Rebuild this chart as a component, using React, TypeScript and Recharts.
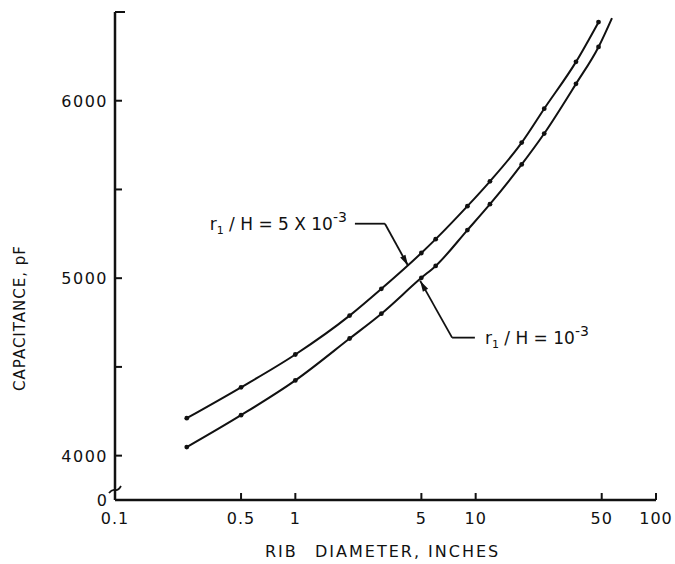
import { LineChart, Line, XAxis, YAxis, ReferenceLine, ReferenceDot } from 'recharts'

// rib diameter, inches
const diameters = [0.25, 0.5, 1, 2, 3, 5, 6, 9, 12, 18, 24, 36, 48]
// capacitance, pF
const capHigh = [4211, 4385, 4570, 4789, 4940, 5142, 5220, 5406, 5546, 5764, 5955, 6219, 6443] // r1/H = 5e-3
const capLow = [4048, 4228, 4424, 4660, 4800, 5002, 5069, 5271, 5417, 5641, 5815, 6095, 6303] // r1/H = 1e-3
// the lower curve is drawn on a little past its last point
const lowTail = { d: 57, c: 6466 }

const xTicks = [0.1, 0.5, 1, 5, 10, 50, 100]
const yTicks = [3750, 4000, 4500, 5000, 5500, 6000, 6500]
const yTickLabels: Record<number, string> = { 3750: '0', 4000: '4000', 5000: '5000', 6000: '6000' }

const highData = diameters.map((d, i) => ({ d, c: capHigh[i] }))
const lowData = [...diameters.map((d, i) => ({ d, c: capLow[i] })), { ...lowTail, tail: true }]

const FONT = '"DejaVu Sans", sans-serif'
const INK = '#111'

function XTick({ x = 0, y = 0, payload }: any) {
  const v = payload?.value
  return (
    <g>
      {v !== 0.1 ? <line x1={x} y1={y} x2={x} y2={y - 7} stroke={INK} strokeWidth={2} /> : null}
      <text x={x} y={y + 24} textAnchor="middle" fill={INK} fontSize={16} letterSpacing={1} fontFamily={FONT}>
        {String(v)}
      </text>
    </g>
  )
}

function YTick({ x = 0, y = 0, payload }: any) {
  const v = payload?.value
  const label = yTickLabels[v]
  if (v === 3750) {
    return (
      <g>
        <text x={x - 8} y={y + 6} textAnchor="end" fill={INK} fontSize={16} fontFamily={FONT}>
          {label}
        </text>
        <path
          d={`M ${x - 6} ${y - 7} q 3 -4 6 -3 q 3 1 6 -4`}
          fill="none"
          stroke={INK}
          strokeWidth={1.8}
        />
      </g>
    )
  }
  return (
    <g>
      <line x1={x} y1={y} x2={x + (v === 6500 ? 10 : 7)} y2={y} stroke={INK} strokeWidth={2} />
      {label ? (
        <text x={x - 7} y={y + 6} textAnchor="end" fill={INK} fontSize={16} letterSpacing={1.5} fontFamily={FONT}>
          {label}
        </text>
      ) : null}
    </g>
  )
}

function Dot({ cx, cy, payload }: any) {
  if (payload?.tail || cx == null) return <g />
  return <circle cx={cx} cy={cy} r={2.4} fill={INK} />
}

function Leader({ x1, y1, x2, y2, arrow }: any) {
  const dx = x2 - x1
  const dy = y2 - y1
  const len = Math.hypot(dx, dy) || 1
  const ux = dx / len
  const uy = dy / len
  const hl = 11
  const hw = 3
  const bx = x2 - ux * hl
  const by = y2 - uy * hl
  return (
    <g>
      <line x1={x1} y1={y1} x2={x2} y2={y2} stroke={INK} strokeWidth={1.8} />
      {arrow ? (
        <polygon
          points={`${x2},${y2} ${bx - uy * hw},${by + ux * hw} ${bx + uy * hw},${by - ux * hw}`}
          fill={INK}
        />
      ) : null}
    </g>
  )
}

function HighLabel({ cx = 0, cy = 0 }: any) {
  return (
    <text x={cx - 8} y={cy + 6} textAnchor="end" fill={INK} fontSize={17} fontFamily={FONT}>
      <tspan>r</tspan>
      <tspan fontSize={11} dy={4}>1</tspan>
      <tspan dy={-4}> / H = 5 X 10</tspan>
      <tspan fontSize={14} dy={-8}>-3</tspan>
    </text>
  )
}

function LowLabel({ cx = 0, cy = 0 }: any) {
  return (
    <text x={cx + 10} y={cy + 6} textAnchor="start" fill={INK} fontSize={17} fontFamily={FONT}>
      <tspan>r</tspan>
      <tspan fontSize={11} dy={4}>1</tspan>
      <tspan dy={-4}> / H =  10</tspan>
      <tspan fontSize={14} dy={-8}>-3</tspan>
    </text>
  )
}

function XAxisTitle({ viewBox }: any) {
  const y = (viewBox?.y ?? 500) + 57
  return (
    <g fill={INK} fontSize={16} letterSpacing={2} fontFamily={FONT}>
      <text x={265} y={y}>RIB</text>
      <text x={315} y={y}>DIAMETER, INCHES</text>
    </g>
  )
}

function YAxisTitle({ viewBox }: any) {
  const top = viewBox?.y ?? 12
  const x = 20
  const y = top + 306
  return (
    <text
      x={x}
      y={y}
      transform={`rotate(-90, ${x}, ${y})`}
      textAnchor="middle"
      dominantBaseline="central"
      fill={INK}
      fontSize={15}
      letterSpacing={1}
      fontFamily={FONT}
    >
      CAPACITANCE, pF
    </text>
  )
}

export default function App() {
  return (
    <div style={{ position: 'absolute', left: 0, top: 0, width: 675, height: 564, background: '#fff' }}>
      <LineChart width={675} height={564} margin={{ top: 12, right: 19, bottom: 34, left: 55 }}>
        <XAxis
          dataKey="d"
          type="number"
          scale="log"
          domain={[0.1, 100]}
          ticks={xTicks}
          interval={0}
          allowDataOverflow
          height={30}
          tickSize={0}
          tickMargin={0}
          tickLine={false}
          axisLine={{ stroke: INK, strokeWidth: 2.5 }}
          tick={<XTick />}
          label={<XAxisTitle />}
        />
        <YAxis
          type="number"
          domain={[3750, 6500]}
          ticks={yTicks}
          interval={0}
          allowDataOverflow
          width={60}
          tickSize={0}
          tickMargin={0}
          tickLine={false}
          axisLine={{ stroke: INK, strokeWidth: 2.5 }}
          tick={<YTick />}
          label={<YAxisTitle />}
        />
        <Line
          data={highData}
          dataKey="c"
          type="monotone"
          stroke={INK}
          strokeWidth={2}
          dot={<Dot />}
          activeDot={false}
          isAnimationActive={false}
        />
        <Line
          data={lowData}
          dataKey="c"
          type="monotone"
          stroke={INK}
          strokeWidth={2}
          dot={<Dot />}
          activeDot={false}
          isAnimationActive={false}
        />
        <ReferenceLine segment={[{ x: 2.14, y: 5307 }, { x: 3.14, y: 5307 }]} shape={<Leader />} />
        <ReferenceLine segment={[{ x: 3.14, y: 5307 }, { x: 4.22, y: 5070 }]} shape={<Leader arrow />} />
        <ReferenceLine segment={[{ x: 9.9, y: 4665 }, { x: 7.4, y: 4665 }]} shape={<Leader />} />
        <ReferenceLine segment={[{ x: 7.4, y: 4665 }, { x: 4.92, y: 4986 }]} shape={<Leader arrow />} />
        <ReferenceDot x={2.14} y={5307} r={0} shape={<HighLabel />} />
        <ReferenceDot x={9.9} y={4665} r={0} shape={<LowLabel />} />
      </LineChart>
    </div>
  )
}
